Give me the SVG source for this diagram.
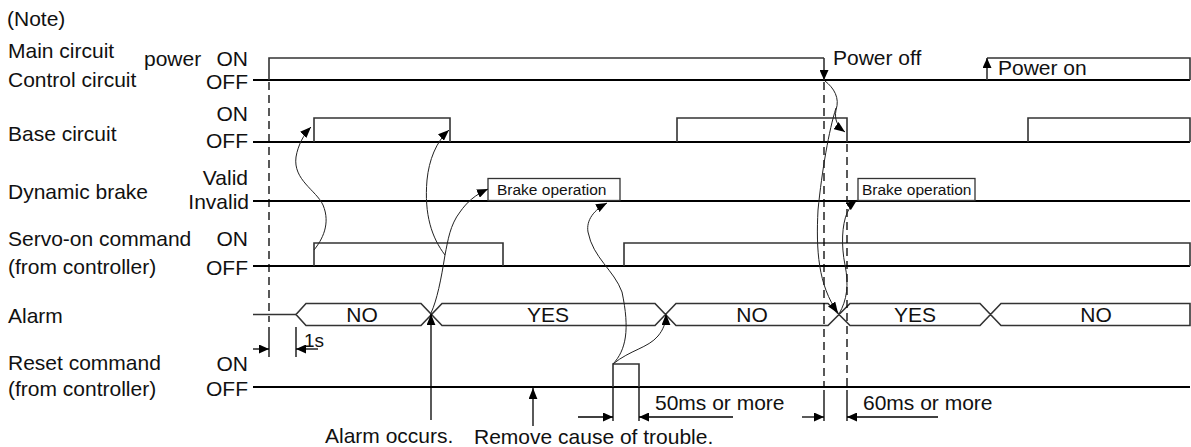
<svg xmlns="http://www.w3.org/2000/svg" width="1191" height="447" viewBox="0 0 1191 447">
<style>
text{font-family:"Liberation Sans",Arial,sans-serif;font-size:21px;fill:#111}
.r{text-anchor:end}
.c{text-anchor:middle}
.s{font-size:15.5px}
.base{fill:none;stroke:#000;stroke-width:2.2}
.sig{fill:none;stroke:#333;stroke-width:1.6}
.dash{fill:none;stroke:#000;stroke-width:1.3;stroke-dasharray:8,5}
.ext{fill:none;stroke:#000;stroke-width:1.3}
.cur{fill:none;stroke:#222;stroke-width:1}
.box{fill:#fff;stroke:#333;stroke-width:1.3}
</style>
<defs>
<marker id="ah" viewBox="0 0 10 8" refX="10" refY="4" markerWidth="11" markerHeight="9" markerUnits="userSpaceOnUse" orient="auto"><path d="M0,0 L10,4 L0,8 z" fill="#000"/></marker>
<marker id="dh" viewBox="0 0 10 9" refX="10" refY="4.5" markerWidth="10" markerHeight="9" markerUnits="userSpaceOnUse" orient="auto"><path d="M0,0 L10,4.5 L0,9 z" fill="#000"/></marker>
</defs>

<g id="labels">
<text x="7" y="26">(Note)</text>
<text x="8" y="58">Main circuit</text>
<text x="8" y="87">Control circuit</text>
<text x="144" y="66">power</text>
<text class="r" x="248" y="66">ON</text>
<text class="r" x="248" y="89">OFF</text>
<text class="r" x="248" y="121">ON</text>
<text x="8" y="141">Base circuit</text>
<text class="r" x="248" y="148">OFF</text>
<text class="r" x="248" y="185">Valid</text>
<text class="r" x="249" y="209">Invalid</text>
<text x="8" y="199">Dynamic brake</text>
<text x="8" y="246">Servo-on command</text>
<text class="r" x="248" y="246">ON</text>
<text x="8" y="274">(from controller)</text>
<text class="r" x="248" y="275">OFF</text>
<text x="8" y="323">Alarm</text>
<text x="8" y="370">Reset command</text>
<text class="r" x="248" y="371">ON</text>
<text x="8" y="396">(from controller)</text>
<text class="r" x="248" y="396">OFF</text>
</g>

<g id="power">
<path class="base" d="M253,80 H1190"/>
<path class="sig" d="M269,80 V58 H824"/>
<path class="sig" d="M987,58 H1190 V80"/>
<text x="833" y="65">Power off</text>
<text x="998" y="75">Power on</text>
</g>

<g id="base-circuit">
<path class="base" d="M253,142 H1190"/>
<path class="sig" d="M314,142 V118 H450 V142 M677,142 V118 H847 V142 M1028,142 V118 H1190 V142"/>
</g>

<g id="dynamic-brake">
<path class="base" d="M253,201 H1190"/>
<rect class="box" x="488" y="178.5" width="132" height="22"/>
<text class="s" x="497" y="195">Brake operation</text>
<rect class="box" x="858" y="178.5" width="117" height="22"/>
<text class="s" x="862" y="195">Brake operation</text>
</g>

<g id="servo-on">
<path class="base" d="M253,266 H1190"/>
<path class="sig" d="M314,266 V243 H503 V266 M624,266 V243 H1190 V266"/>
</g>

<g id="alarm">
<path class="sig" d="M253,314.5 H296"/>
<path class="sig" d="M296,314.5 L306,303.5 H421 L442,325.5 H655 L676,303.5 H828 L850,325.5 H980 L1001,303.5 H1190 V325.5 H1001 L980,303.5 H850 L828,325.5 H676 L655,303.5 H442 L421,325.5 H306 Z"/>
<text class="c" x="362" y="322">NO</text>
<text class="c" x="548" y="322">YES</text>
<text class="c" x="752" y="322">NO</text>
<text class="c" x="915" y="322">YES</text>
<text class="c" x="1096" y="322">NO</text>
</g>

<g id="reset">
<path class="base" d="M253,387 H1190"/>
<path class="sig" d="M613,387 V364 H639 V387"/>
</g>

<g id="annotations">
<text x="325" y="443">Alarm occurs.</text>
<text x="474" y="444">Remove cause of trouble.</text>
<text x="304" y="347" style="font-size:19px">1s</text>
<text x="655" y="410">50ms or more</text>
<text x="863" y="410">60ms or more</text>
</g>

<g id="connectors">
<path class="dash" d="M269,82 V322 M824,82 V388 M847,144 V388"/>
<path class="ext" d="M269,327 V357 M296,327 V357 M613,388 V421 M639,388 V421 M824,390 V421 M847,390 V421"/>
<path class="ext" d="M253,349 H269" marker-end="url(#dh)"/>
<path class="ext" d="M318,349 H296" marker-end="url(#dh)"/>
<path class="ext" d="M578,417 H613" marker-end="url(#dh)"/>
<path class="ext" d="M733,417 H639" marker-end="url(#dh)"/>
<path class="ext" d="M802,417 H824" marker-end="url(#dh)"/>
<path class="ext" d="M938,417 H847" marker-end="url(#dh)"/>
<path class="sig" d="M824,58 V80" marker-end="url(#dh)"/>
<path class="sig" d="M987,80 V58" marker-end="url(#dh)"/>
<path class="ext" d="M431,420 V314" marker-end="url(#ah)"/>
<path class="ext" d="M533,426 V388" marker-end="url(#ah)"/>
<path class="cur" d="M314,250 C322,240 331,224 323,205 C316,190 293,180 296,157 C298,145 304,134 311,127" marker-end="url(#ah)"/>
<path class="cur" d="M431,313 C437,300 441,280 445,255 C432,238 424,215 427,180 C429,160 436,142 449,130" marker-end="url(#ah)"/>
<path class="cur" d="M445,255 C448,240 450,225 460,212 C467,202 475,195 488,189" marker-end="url(#ah)"/>
<path class="cur" d="M613,364 C626,350 630,330 622,292 C614,270 593,258 588,232 C586,220 594,210 607,203" marker-end="url(#ah)"/>
<path class="cur" d="M613,364 C630,350 648,348 658,336 C663,330 666,323 666,314" marker-end="url(#ah)"/>
<path class="cur" d="M825,81 C834,88 840,98 836,110 C834,120 838,127 845,132" marker-end="url(#ah)"/>
<path class="cur" d="M836,108 C829,130 822,170 818,210 C816,250 818,285 838,313" marker-end="url(#ah)"/>
<path class="cur" d="M839,314 C847,300 849,285 845,265 C841,245 842,225 847,213 C850,207 853,203 857,200" marker-end="url(#ah)"/>
</g>
</svg>
